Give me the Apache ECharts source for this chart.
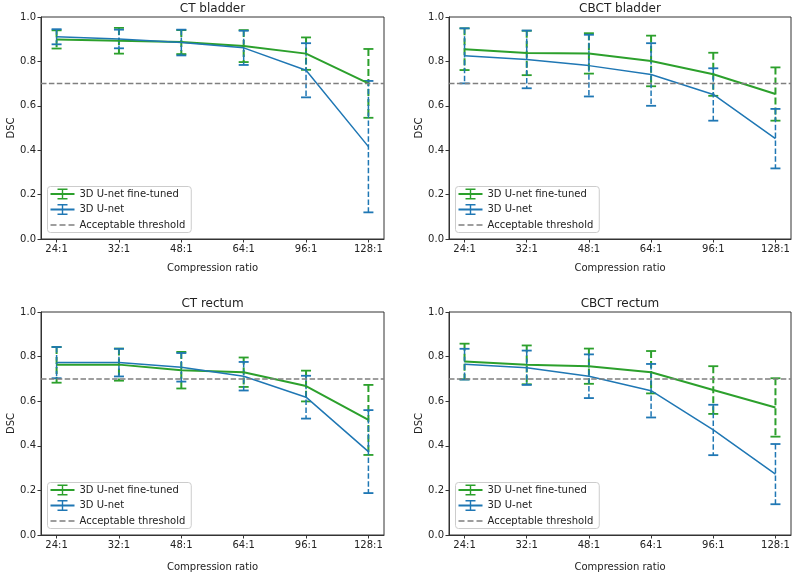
<!DOCTYPE html>
<html>
<head>
<meta charset="utf-8">
<script src="https://cdn.jsdelivr.net/npm/echarts@6/dist/echarts.min.js"></script>
<style>
html,body{margin:0;padding:0;background:#fff;}
#main{width:793px;height:573px;}
</style>
</head>
<body>
<div id="main"></div>
<script>
// ---------- data ----------
const categories = ['24:1', '32:1', '48:1', '64:1', '96:1', '128:1'];
const yTicks = [0, 0.2, 0.4, 0.6, 0.8, 1.0];
const panelTitles = ['CT bladder', 'CBCT bladder', 'CT rectum', 'CBCT rectum'];
const seriesNames = ['3D U-net fine-tuned', '3D U-net', 'Acceptable threshold'];
const threshold = 0.7;

// CT bladder
const ctBladderFtMean = [0.899, 0.893, 0.887, 0.869, 0.835, 0.701];
const ctBladderFtErr  = [0.041, 0.058, 0.054, 0.072, 0.073, 0.155];
const ctBladderUnMean = [0.911, 0.901, 0.885, 0.861, 0.760, 0.416];
const ctBladderUnErr  = [0.034, 0.042, 0.058, 0.077, 0.122, 0.296];
// CBCT bladder
const cbctBladderFtMean = [0.855, 0.838, 0.836, 0.802, 0.742, 0.653];
const cbctBladderFtErr  = [0.094, 0.100, 0.091, 0.114, 0.097, 0.120];
const cbctBladderUnMean = [0.825, 0.809, 0.781, 0.741, 0.651, 0.452];
const cbctBladderUnErr  = [0.124, 0.130, 0.139, 0.141, 0.118, 0.134];
// CT rectum
const ctRectumFtMean = [0.763, 0.764, 0.739, 0.730, 0.668, 0.516];
const ctRectumFtErr  = [0.080, 0.072, 0.082, 0.066, 0.069, 0.157];
const ctRectumUnMean = [0.773, 0.773, 0.752, 0.712, 0.618, 0.374];
const ctRectumUnErr  = [0.070, 0.062, 0.064, 0.064, 0.096, 0.186];
// CBCT rectum
const cbctRectumFtMean = [0.778, 0.763, 0.757, 0.730, 0.650, 0.572];
const cbctRectumFtErr  = [0.080, 0.087, 0.079, 0.095, 0.107, 0.131];
const cbctRectumUnMean = [0.766, 0.750, 0.712, 0.647, 0.471, 0.273];
const cbctRectumUnErr  = [0.069, 0.077, 0.098, 0.120, 0.113, 0.135];

// ---------- layout / style ----------
const panels = [
  {ft: [ctBladderFtMean, ctBladderFtErr], un: [ctBladderUnMean, ctBladderUnErr]},
  {ft: [cbctBladderFtMean, cbctBladderFtErr], un: [cbctBladderUnMean, cbctBladderUnErr]},
  {ft: [ctRectumFtMean, ctRectumFtErr], un: [ctRectumUnMean, ctRectumUnErr]},
  {ft: [cbctRectumFtMean, cbctRectumFtErr], un: [cbctRectumUnMean, cbctRectumUnErr]}
];
const gridBoxes = [
  {left: 41, top: 17, width: 343, height: 222},
  {left: 449, top: 17, width: 342, height: 222},
  {left: 41, top: 312, width: 343, height: 223},
  {left: 449, top: 312, width: 342, height: 223}
];
const xNameGaps = [24, 24, 27, 27];
const GREEN = '#2ca02c', BLUE = '#1f77b4', GRAY = '#7f7f7f', TXT = '#222';
const FONT = 'DejaVu Sans';
const ebIcon = 'path://M0,4.5H24V6.5H0Z M11.3,0H12.7V11H11.3Z M7,0H17V1.6H7Z M7,9.4H17V11H7Z';
const dashIcon = 'path://M0,0h0.01v0.01h-0.01Z M23.99,10.99h0.01v0.01h-0.01Z M0,4.75H6V6.25H0Z M9,4.75H15V6.25H9Z M18,4.75H24V6.25H18Z';

function errRender(color, lw, dash, capHalf) {
  return function (params, api) {
    const x = api.value(0), m = api.value(1), e = api.value(2);
    const t = api.coord([x, m + e]);
    const b = api.coord([x, m - e]);
    return {
      type: 'group',
      children: [
        {type: 'line', shape: {x1: t[0], y1: t[1], x2: b[0], y2: b[1]},
         style: {stroke: color, lineWidth: lw, lineDash: dash, fill: null}},
        {type: 'line', shape: {x1: t[0] - capHalf, y1: t[1], x2: t[0] + capHalf, y2: t[1]},
         style: {stroke: color, lineWidth: 1.8, fill: null}},
        {type: 'line', shape: {x1: b[0] - capHalf, y1: b[1], x2: b[0] + capHalf, y2: b[1]},
         style: {stroke: color, lineWidth: 1.8, fill: null}}
      ]
    };
  };
}

const grid = [], xAxis = [], yAxis = [], series = [], title = [], legend = [];
const idx = categories.map((c, i) => i);

gridBoxes.forEach((g, k) => {
  grid.push(Object.assign({show: true, borderColor: '#333', borderWidth: 1, backgroundColor: 'transparent', containLabel: false}, g));
  title.push({
    text: panelTitles[k], left: g.left + g.width / 2, top: g.top - 14, textAlign: 'center', padding: 0,
    textStyle: {fontFamily: FONT, fontSize: 12, fontWeight: 'normal', color: TXT}
  });
  xAxis.push({
    type: 'value', gridIndex: k, min: -0.25, max: 5.25,
    name: 'Compression ratio', nameLocation: 'middle', nameGap: xNameGaps[k],
    nameTextStyle: {fontFamily: FONT, fontSize: 10, color: TXT},
    axisLine: {show: true, onZero: false, lineStyle: {color: '#333', width: 1}},
    axisTick: {show: true, length: 3.5, customValues: idx, lineStyle: {color: '#333'}},
    axisLabel: {show: true, customValues: idx, margin: 5, fontFamily: FONT, fontSize: 10, color: TXT,
      formatter: v => categories[Math.round(v)]},
    splitLine: {show: false}
  });
  yAxis.push({
    type: 'value', gridIndex: k, min: yTicks[0], max: yTicks[yTicks.length - 1], interval: 0.2,
    name: 'DSC', nameLocation: 'middle', nameGap: 21,
    nameTextStyle: {fontFamily: FONT, fontSize: 10, color: TXT},
    axisLine: {show: true, onZero: false, lineStyle: {color: '#333', width: 1}},
    axisTick: {show: true, length: 3.5, lineStyle: {color: '#333'}},
    axisLabel: {margin: 5, fontFamily: FONT, fontSize: 10, color: TXT, formatter: v => v.toFixed(1)},
    splitLine: {show: false}
  });
  const p = panels[k];
  const ftLine = idx.map(i => [i, p.ft[0][i]]);
  const unLine = idx.map(i => [i, p.un[0][i]]);
  const ftErr = idx.map(i => [i, p.ft[0][i], p.ft[1][i]]);
  const unErr = idx.map(i => [i, p.un[0][i], p.un[1][i]]);
  series.push({
    type: 'custom', name: 'ft-err-' + k, xAxisIndex: k, yAxisIndex: k, data: ftErr,
    renderItem: errRender(GREEN, 2, [7, 3], 5), encode: {x: 0, y: [1, 2]}, silent: true, z: 2
  });
  series.push({
    type: 'line', name: seriesNames[0], xAxisIndex: k, yAxisIndex: k, data: ftLine,
    symbol: 'none', lineStyle: {color: GREEN, width: 2}, itemStyle: {color: GREEN}, z: 2, animation: false
  });
  series.push({
    type: 'custom', name: 'un-err-' + k, xAxisIndex: k, yAxisIndex: k, data: unErr,
    renderItem: errRender(BLUE, 1.5, [5.5, 2.4], 5), encode: {x: 0, y: [1, 2]}, silent: true, z: 2
  });
  series.push({
    type: 'line', name: seriesNames[1], xAxisIndex: k, yAxisIndex: k, data: unLine,
    symbol: 'none', lineStyle: {color: BLUE, width: 1.5}, itemStyle: {color: BLUE}, z: 2, animation: false
  });
  series.push({
    type: 'line', name: seriesNames[2], xAxisIndex: k, yAxisIndex: k,
    data: [[-0.25, threshold], [5.25, threshold]],
    symbol: 'none', lineStyle: {color: GRAY, width: 1.5, type: [5.5, 2.4]}, itemStyle: {color: GRAY}, z: 3, animation: false
  });
  legend.push({
    orient: 'vertical', left: g.left + 6.5, top: g.top + g.height - 52.5,
    padding: [2, 6, 2, 3], itemGap: 4.5, itemWidth: 24, itemHeight: 11,
    backgroundColor: 'rgba(255,255,255,0.8)', borderColor: '#cccccc', borderWidth: 1, borderRadius: 3,
    selectedMode: false,
    textStyle: {fontFamily: FONT, fontSize: 10, color: TXT, padding: [0, 0, 0, 0]},
    data: [
      {name: seriesNames[0], icon: ebIcon},
      {name: seriesNames[1], icon: ebIcon},
      {name: seriesNames[2], icon: dashIcon}
    ]
  });
});

const chart = echarts.init(document.getElementById('main'), null, {renderer: 'canvas'});
chart.setOption({
  animation: false,
  backgroundColor: '#fff',
  textStyle: {fontFamily: FONT},
  title, grid, xAxis, yAxis, legend, series
});
</script>
</body>
</html>
